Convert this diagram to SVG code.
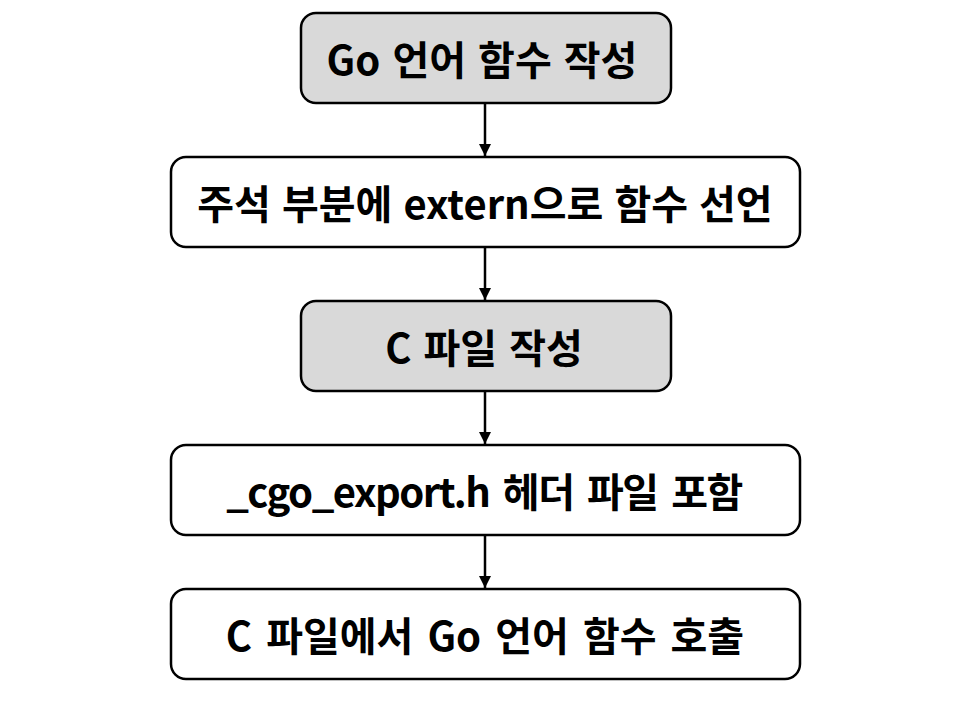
<svg xmlns="http://www.w3.org/2000/svg" width="960" height="720" viewBox="0 0 960 720">
<defs>
<marker id="ah" markerWidth="12" markerHeight="12" refX="10" refY="5" orient="auto" markerUnits="userSpaceOnUse" viewBox="0 0 10 10">
<path d="M0,0 L10,5 L0,10 Z" fill="#000"/>
</marker>
</defs>
<style>
.box{stroke:#000;stroke-width:2.5}
.g{fill:#d9d9d9}
.w{fill:#fff}
.t{font-family:"Noto Sans CJK KR","Malgun Gothic",sans-serif;font-weight:bold;font-size:40px;fill:#000;text-anchor:middle;dominant-baseline:central}
.c{stroke:#000;stroke-width:2.5;fill:none}
</style>
<rect width="960" height="720" fill="#fff"/>
<g id="n1"><rect class="box g" x="301" y="13" width="370" height="90" rx="15"/><text class="t" x="482" y="58" word-spacing="3">Go 언어 함수 작성</text></g>
<g id="n2"><rect class="box w" x="171" y="157" width="629" height="90" rx="15"/><text class="t" x="485" y="202" word-spacing="2">주석 부분에 extern으로 함수 선언</text></g>
<g id="n3"><rect class="box g" x="301" y="301" width="370" height="90" rx="15"/><text class="t" x="484" y="346" word-spacing="3">C 파일 작성</text></g>
<g id="n4"><rect class="box w" x="171" y="445" width="629" height="90" rx="15"/><text class="t" x="484" y="490" letter-spacing="-1.5" word-spacing="6">_cgo_export.h 헤더 파일 포함</text></g>
<g id="n5"><rect class="box w" x="171" y="589" width="629" height="90" rx="15"/><text class="t" x="485" y="634" word-spacing="5">C 파일에서 Go 언어 함수 호출</text></g>
<g id="connectors">
<line class="c" x1="485" y1="103" x2="485" y2="156" marker-end="url(#ah)"/>
<line class="c" x1="485" y1="247" x2="485" y2="300" marker-end="url(#ah)"/>
<line class="c" x1="485" y1="391" x2="485" y2="444" marker-end="url(#ah)"/>
<line class="c" x1="485" y1="535" x2="485" y2="588" marker-end="url(#ah)"/>
</g>
</svg>
